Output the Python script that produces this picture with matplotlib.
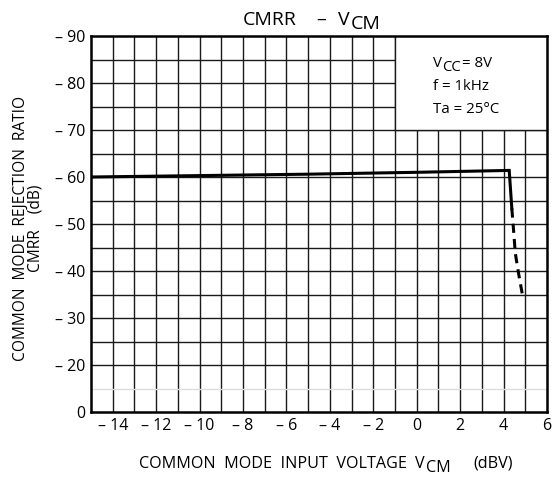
import matplotlib
matplotlib.use("Agg")
import matplotlib.pyplot as plt
from matplotlib.patches import Rectangle

plt.rcParams['font.family'] = ['Open Sans', 'DejaVu Sans']

# Data (x: VCM in dBV, y: CMRR in dB, axis runs -90 at top)
vcm_solid = [-15, -10, -5, 0, 4.26, 4.38]
cmrr_solid = [-60.0, -60.3, -60.6, -61.0, -61.4, -53.3]
vcm_dash = [4.38, 4.46, 4.54, 4.69, 4.87]
cmrr_dash = [-53.3, -48.7, -43.8, -39.5, -34.9]

xticks = [-14, -12, -10, -8, -6, -4, -2, 0, 2, 4, 6]
xticklabels = ['– 14', '– 12', '– 10', '– 8', '– 6', '– 4', '– 2', '0', '2', '4', '6']
yticks = [-90, -80, -70, -60, -50, -40, -30, -20, -10]
yticklabels = ['– 90', '– 80', '– 70', '– 60', '– 50', '– 40', '– 30', '– 20', '0']

W, H = 552, 479
fig = plt.figure(figsize=(W/100, H/100), dpi=100)
ax = fig.add_axes([91/W, 1-412/H, (547-91)/W, (412-36)/H])
ax.set_xlim(-15, 6)
ax.set_ylim(-10, -90)

# grid
for x in range(-14, 6):
    ax.plot([x, x], [-10, -90], color='#1a1a1a', lw=1.0, zorder=1)
for y in range(-85, -10, 5):
    c = '#dddddd' if y == -15 else '#1a1a1a'
    ax.plot([-15, 6], [y, y], color=c, lw=1.0, zorder=1)

# blank box for conditions
ax.add_patch(Rectangle((-1, -90), 7, 20, facecolor='white', edgecolor='none', zorder=2))
ax.plot([-1, -1], [-90, -70], color='#1a1a1a', lw=1.0, zorder=3)
ax.plot([-1, 6], [-70, -70], color='#1a1a1a', lw=1.0, zorder=3)

ax.plot(vcm_solid, cmrr_solid, color='black', lw=2.2, zorder=4, solid_joinstyle='miter')
ax.plot(vcm_dash, cmrr_dash, color='black', lw=2.2, zorder=4, linestyle=(0, (3, 2)))

for s in ax.spines.values():
    s.set_linewidth(1.8)
    s.set_color('black')
    s.set_zorder(6)

ax.set_xticks(xticks)
ax.set_xticklabels(xticklabels, fontsize=11.5)
ax.set_yticks(yticks)
ax.set_yticklabels(yticklabels, fontsize=11.5)
ax.tick_params(length=0, pad=4)


def piece(x_px, y_px, s, fs, ha='left'):
    """Place text with its baseline at pixel (x_px, y_px) measured from top-left."""
    return fig.text(x_px/W, 1-y_px/H, s, fontsize=fs, ha=ha, va='baseline', zorder=7)


# title: CMRR – V_CM
piece(243, 25, 'CMRR', 14)
piece(316, 25, '–', 14)
piece(338, 25, 'V', 14)
piece(351, 29, 'CM', 14)

# x label
piece(407, 468, 'COMMON  MODE  INPUT  VOLTAGE', 11.6, ha='right')
piece(415, 468, 'V', 11.6)
piece(426, 472, 'CM', 11.6)
piece(473, 468, '(dBV)', 11.6)

# conditions box
piece(433, 67, 'V', 10.8)
piece(442, 71, 'CC', 10.8)
piece(462, 67, '= 8V', 10.8)
piece(433, 90, 'f = 1kHz', 10.8)
piece(433, 113, 'Ta = 25°C', 10.8)

# y label
fig.text(21/W, 1-228/H, 'COMMON  MODE  REJECTION  RATIO', fontsize=11.2, rotation=90,
         ha='center', va='center')
fig.text(36/W, 1-228/H, 'CMRR    (dB)', fontsize=11.2, rotation=90, ha='center', va='center')

fig.savefig('out.png', dpi=100)
